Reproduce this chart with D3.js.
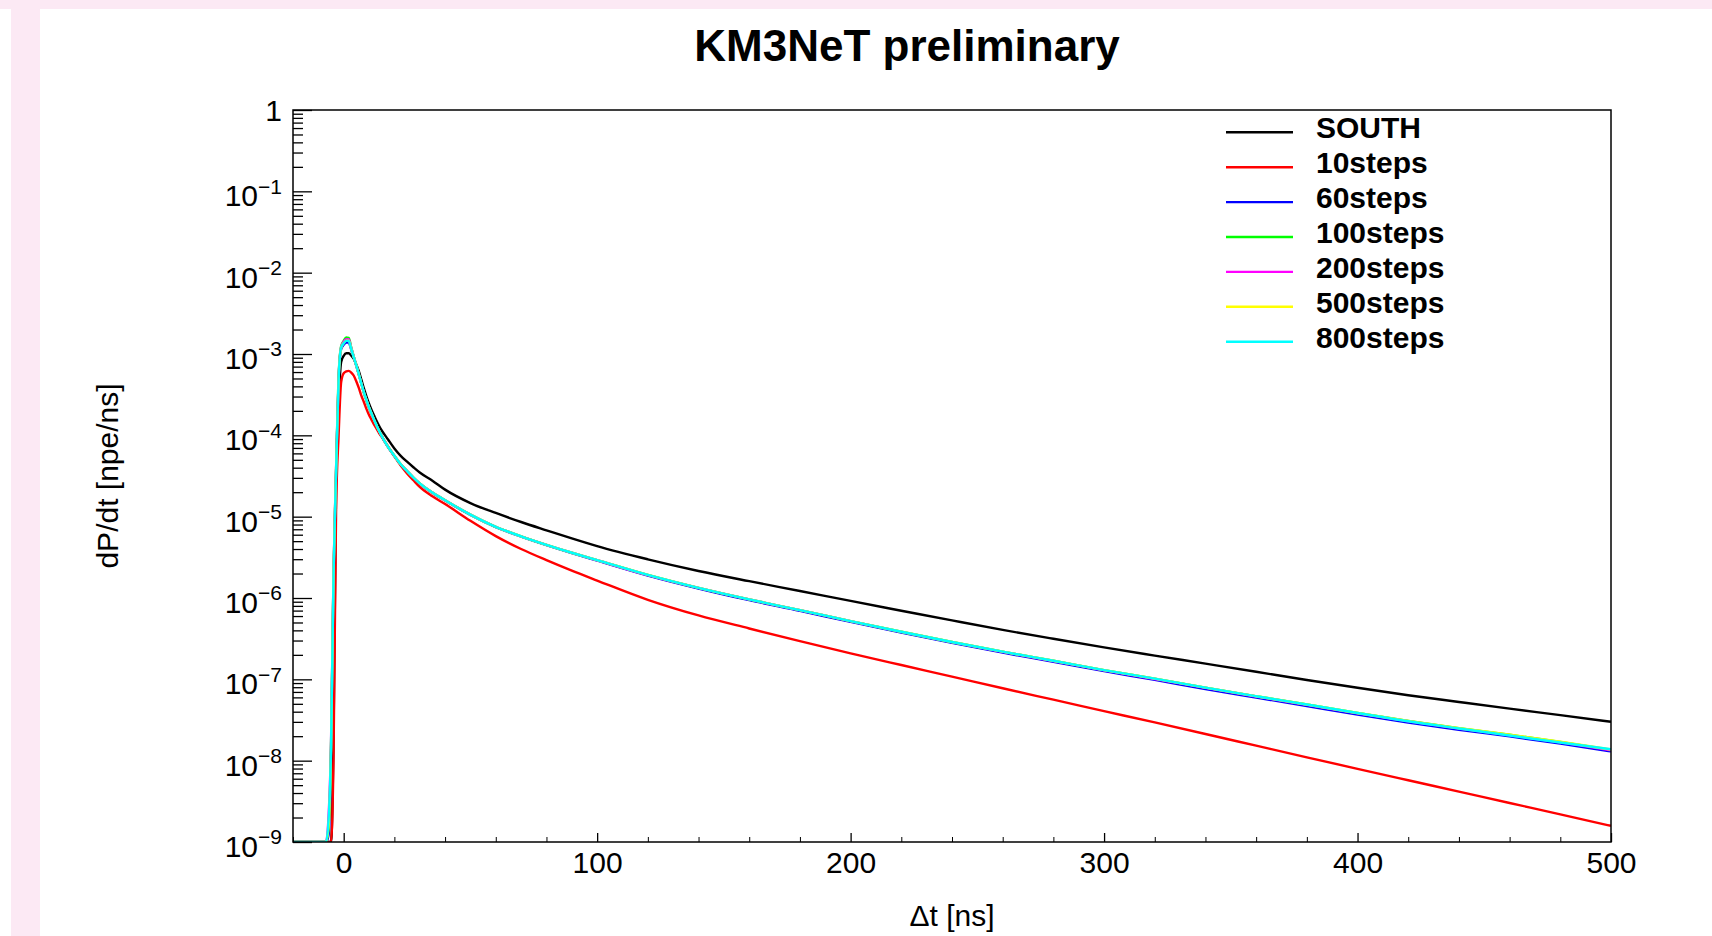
<!DOCTYPE html>
<html>
<head>
<meta charset="utf-8">
<script src="https://cdn.jsdelivr.net/npm/d3@7"></script>
<style>
  html, body { margin: 0; padding: 0; background: #fff; }
  svg { display: block; font-family: "Liberation Sans", Arial, Helvetica, sans-serif; }
</style>
</head>
<body>
<div id="chart"></div>
<script>
const tNs = [-20, -7, -6, -5, -4, -3, -2, -1, 0, 1, 2, 3, 4, 5, 6, 7, 8, 9, 10, 11, 12, 13, 14, 15,
  17.5, 20, 22.5, 25, 27.5, 30, 35, 40, 50, 60, 70, 80, 90, 100,
  120, 140, 160, 180, 200, 220, 240, 260, 280, 300, 320, 340, 360, 380, 400, 420, 440, 460, 480, 500];

// dP/dt [npe/ns] for each series
const south = [0, 0, 0, 0, 2.0e-8, 2.5e-5, 2.5e-4, 8.0e-4, 9.5e-4, 1.02e-3, 1.02e-3, 9.5e-4, 8.7e-4, 7.4e-4, 6.1e-4, 4.8e-4, 3.75e-4, 3.0e-4, 2.45e-4, 2.05e-4, 1.75e-4, 1.5e-4, 1.3e-4, 1.15e-4,
  8.9e-5, 6.9e-5, 5.6e-5, 4.74e-5, 4.05e-5, 3.49e-5, 2.77e-5, 2.15e-5, 1.47e-5, 1.11e-5, 8.6e-6, 6.8e-6, 5.4e-6, 4.34e-6,
  2.99e-6, 2.15e-6, 1.61e-6, 1.22e-6, 9.2e-7, 6.98e-7, 5.3e-7, 4.05e-7, 3.15e-7, 2.47e-7, 1.96e-7, 1.56e-7, 1.24e-7, 9.8e-8, 7.87e-8, 6.38e-8, 5.27e-8, 4.36e-8, 3.63e-8, 3.01e-8];

const steps10 = [0, 0, 0, 0, 1.2e-8, 1.2e-5, 1.0e-4, 4.5e-4, 5.8e-4, 6.1e-4, 6.2e-4, 5.9e-4, 5.4e-4, 4.6e-4, 3.8e-4, 3.05e-4, 2.55e-4, 2.1e-4, 1.78e-4, 1.55e-4, 1.35e-4, 1.2e-4, 1.06e-4, 9.6e-5,
  7.3e-5, 5.5e-5, 4.25e-5, 3.4e-5, 2.8e-5, 2.32e-5, 1.78e-5, 1.43e-5, 8.9e-6, 5.77e-6, 4.0e-6, 2.92e-6, 2.17e-6, 1.64e-6,
  9.5e-7, 6.1e-7, 4.22e-7, 2.95e-7, 2.09e-7, 1.50e-7, 1.08e-7, 7.76e-8, 5.62e-8, 4.07e-8, 2.95e-8, 2.13e-8, 1.53e-8, 1.10e-8, 7.94e-9, 5.75e-9, 4.17e-9, 3.02e-9, 2.19e-9, 1.58e-9];

const steps60 = [0, 0, 1.2e-9, 1.2e-8, 1.8e-6, 3.5e-5, 4.8e-4, 1.15e-3, 1.3e-3, 1.38e-3, 1.38e-3, 1.12e-3, 9.0e-4, 7.1e-4, 5.55e-4, 4.3e-4, 3.35e-4, 2.7e-4, 2.2e-4, 1.84e-4, 1.54e-4, 1.31e-4, 1.12e-4, 9.7e-5,
  7.15e-5, 5.55e-5, 4.38e-5, 3.62e-5, 3.01e-5, 2.55e-5, 1.97e-5, 1.58e-5, 1.05e-5, 7.45e-6, 5.68e-6, 4.46e-6, 3.56e-6, 2.88e-6,
  1.89e-6, 1.31e-6, 9.4e-7, 6.95e-7, 5.08e-7, 3.76e-7, 2.81e-7, 2.13e-7, 1.64e-7, 1.26e-7, 9.85e-8, 7.6e-8, 5.97e-8, 4.7e-8, 3.7e-8, 2.95e-8, 2.4e-8, 1.99e-8, 1.62e-8, 1.3e-8];

const steps100 = [0, 0, 1.5e-9, 1.4e-8, 2.1e-6, 3.8e-5, 5.3e-4, 1.25e-3, 1.45e-3, 1.6e-3, 1.58e-3, 1.2e-3, 9.2e-4, 7.2e-4, 5.6e-4, 4.3e-4, 3.3e-4, 2.68e-4, 2.2e-4, 1.85e-4, 1.55e-4, 1.32e-4, 1.13e-4, 9.8e-5,
  7.2e-5, 5.6e-5, 4.4e-5, 3.64e-5, 3.03e-5, 2.56e-5, 1.98e-5, 1.59e-5, 1.06e-5, 7.5e-6, 5.74e-6, 4.5e-6, 3.6e-6, 2.92e-6,
  1.92e-6, 1.33e-6, 9.6e-7, 7.1e-7, 5.2e-7, 3.85e-7, 2.88e-7, 2.19e-7, 1.69e-7, 1.30e-7, 1.02e-7, 7.9e-8, 6.2e-8, 4.9e-8, 3.85e-8, 3.08e-8, 2.5e-8, 2.08e-8, 1.7e-8, 1.36e-8];

const steps200 = [0, 0, 2.0e-9, 1.6e-8, 2.2e-6, 3.9e-5, 5.1e-4, 1.22e-3, 1.42e-3, 1.52e-3, 1.52e-3, 1.18e-3, 9.2e-4, 7.2e-4, 5.6e-4, 4.3e-4, 3.35e-4, 2.7e-4, 2.2e-4, 1.85e-4, 1.55e-4, 1.32e-4, 1.13e-4, 9.8e-5,
  7.2e-5, 5.6e-5, 4.4e-5, 3.64e-5, 3.03e-5, 2.56e-5, 1.98e-5, 1.59e-5, 1.06e-5, 7.5e-6, 5.72e-6, 4.5e-6, 3.6e-6, 2.91e-6,
  1.91e-6, 1.33e-6, 9.6e-7, 7.08e-7, 5.2e-7, 3.84e-7, 2.87e-7, 2.18e-7, 1.68e-7, 1.29e-7, 1.01e-7, 7.85e-8, 6.15e-8, 4.85e-8, 3.82e-8, 3.05e-8, 2.48e-8, 2.05e-8, 1.68e-8, 1.34e-8];

const steps500 = [0, 0, 1.5e-9, 1.4e-8, 2.0e-6, 3.7e-5, 4.9e-4, 1.19e-3, 1.36e-3, 1.46e-3, 1.46e-3, 1.15e-3, 9.1e-4, 7.2e-4, 5.6e-4, 4.3e-4, 3.35e-4, 2.7e-4, 2.2e-4, 1.85e-4, 1.55e-4, 1.32e-4, 1.13e-4, 9.8e-5,
  7.2e-5, 5.6e-5, 4.4e-5, 3.64e-5, 3.03e-5, 2.56e-5, 1.98e-5, 1.59e-5, 1.06e-5, 7.5e-6, 5.73e-6, 4.5e-6, 3.6e-6, 2.92e-6,
  1.92e-6, 1.33e-6, 9.6e-7, 7.1e-7, 5.2e-7, 3.85e-7, 2.88e-7, 2.19e-7, 1.69e-7, 1.30e-7, 1.02e-7, 7.9e-8, 6.2e-8, 4.9e-8, 3.86e-8, 3.08e-8, 2.51e-8, 2.09e-8, 1.71e-8, 1.37e-8];

const steps800 = [0, 0, 1.8e-9, 1.5e-8, 2.0e-6, 3.7e-5, 5.0e-4, 1.2e-3, 1.35e-3, 1.45e-3, 1.45e-3, 1.15e-3, 9.1e-4, 7.2e-4, 5.6e-4, 4.3e-4, 3.35e-4, 2.7e-4, 2.2e-4, 1.85e-4, 1.55e-4, 1.32e-4, 1.13e-4, 9.8e-5,
  7.2e-5, 5.6e-5, 4.4e-5, 3.64e-5, 3.03e-5, 2.56e-5, 1.98e-5, 1.59e-5, 1.06e-5, 7.5e-6, 5.73e-6, 4.5e-6, 3.6e-6, 2.92e-6,
  1.92e-6, 1.33e-6, 9.6e-7, 7.1e-7, 5.2e-7, 3.85e-7, 2.88e-7, 2.19e-7, 1.69e-7, 1.30e-7, 1.02e-7, 7.9e-8, 6.2e-8, 4.9e-8, 3.86e-8, 3.05e-8, 2.49e-8, 2.04e-8, 1.67e-8, 1.38e-8];

const seriesNames = ["SOUTH", "10steps", "60steps", "100steps", "200steps", "500steps", "800steps"];
const seriesValues = [south, steps10, steps60, steps100, steps200, steps500, steps800];
const seriesColors = ["#000000", "#ff0000", "#0000ff", "#00ff00", "#ff00ff", "#ffff00", "#00ffff"];

const xMajorTicks = [0, 100, 200, 300, 400, 500];
const yDecades = [1e-9, 1e-8, 1e-7, 1e-6, 1e-5, 1e-4, 1e-3, 1e-2, 1e-1, 1];

const W = 1712, H = 936;
const plot = { left: 293, right: 1611, top: 110, bottom: 842 };
const yMin = 1e-9;

const svg = d3.select("#chart").append("svg")
  .attr("width", W).attr("height", H);

// pink page strips around the canvas
svg.append("rect").attr("x", 0).attr("y", 0).attr("width", W).attr("height", 9).attr("fill", "#fce9f4");
svg.append("rect").attr("x", 11).attr("y", 9).attr("width", 29).attr("height", H - 9).attr("fill", "#fce9f4");

const x = d3.scaleLinear().domain([-20, 500]).range([plot.left, plot.right]);
const y = d3.scaleLog().domain([yMin, 1]).range([plot.bottom, plot.top]);

// clip curves to the frame
svg.append("clipPath").attr("id", "frame-clip")
  .append("rect")
  .attr("x", plot.left).attr("y", plot.top)
  .attr("width", plot.right - plot.left).attr("height", plot.bottom - plot.top);

const line = d3.line()
  .curve(d3.curveMonotoneX)
  .x(d => x(d.t))
  .y(d => y(Math.max(d.v, yMin)));

const curves = svg.append("g").attr("clip-path", "url(#frame-clip)");
seriesValues.forEach((vals, i) => {
  const pts = tNs.map((t, j) => ({ t: t, v: vals[j] }));
  curves.append("path")
    .datum(pts)
    .attr("fill", "none")
    .attr("stroke", seriesColors[i])
    .attr("stroke-width", 2.4)
    .attr("d", line);
});

// x axis: major + minor ticks pointing inside
const xMinorTicks = d3.range(-20, 501, 20).filter(v => xMajorTicks.indexOf(v) < 0);
svg.append("g")
  .attr("transform", "translate(0," + plot.bottom + ")")
  .call(d3.axisBottom(x).tickValues(xMinorTicks).tickSize(-5).tickFormat(""))
  .call(g => g.select(".domain").remove());

const xAxis = svg.append("g")
  .attr("transform", "translate(0," + plot.bottom + ")")
  .call(d3.axisBottom(x).tickValues(xMajorTicks).tickSize(-9).tickPadding(10).tickFormat(d3.format("d")));
xAxis.select(".domain").remove();
xAxis.selectAll(".tick text").attr("font-size", 30).attr("fill", "#000");
xAxis.selectAll(".tick line").attr("stroke-width", 1.3);

// y axis: decades + minor ticks
const yMinorTicks = [];
yDecades.slice(0, -1).forEach(d => { for (let k = 2; k <= 9; k++) yMinorTicks.push(d * k); });
svg.append("g")
  .attr("transform", "translate(" + plot.left + ",0)")
  .call(d3.axisLeft(y).tickValues(yMinorTicks).tickSize(-10).tickFormat(""))
  .call(g => g.select(".domain").remove())
  .selectAll(".tick line").attr("stroke-width", 1.3);

const yAxis = svg.append("g")
  .attr("transform", "translate(" + plot.left + ",0)")
  .call(d3.axisLeft(y).tickValues(yDecades).tickSize(-19).tickPadding(11));
yAxis.select(".domain").remove();
yAxis.selectAll(".tick line").attr("stroke-width", 1.3);
yAxis.selectAll(".tick text").each(function(d) {
  const t = d3.select(this).attr("font-size", 30).attr("fill", "#000");
  t.text(null);
  if (d === 1) {
    t.attr("dy", "0.36em").text("1");
  } else {
    t.attr("dy", "0.48em");
    t.append("tspan").text("10");
    t.append("tspan").attr("dy", "-0.6em").attr("font-size", "0.7em")
      .text("\u2212" + Math.round(-Math.log10(d)));
  }
});

// frame
svg.append("rect")
  .attr("x", plot.left).attr("y", plot.top)
  .attr("width", plot.right - plot.left).attr("height", plot.bottom - plot.top)
  .attr("fill", "none").attr("stroke", "#000").attr("stroke-width", 1.5);

// titles
svg.append("text")
  .attr("x", 907).attr("y", 61)
  .attr("text-anchor", "middle")
  .attr("font-size", 44).attr("font-weight", "bold")
  .text("KM3NeT preliminary");

svg.append("text")
  .attr("x", (plot.left + plot.right) / 2).attr("y", 926)
  .attr("text-anchor", "middle")
  .attr("font-size", 30)
  .text("\u0394t [ns]");

svg.append("text")
  .attr("transform", "translate(118," + ((plot.top + plot.bottom) / 2) + ") rotate(-90)")
  .attr("text-anchor", "middle")
  .attr("font-size", 30)
  .text("dP/dt [npe/ns]");

// legend
const legend = svg.append("g");
seriesNames.forEach((name, i) => {
  const ly = 132.3 + i * 34.9;
  legend.append("line")
    .attr("x1", 1226).attr("x2", 1293)
    .attr("y1", ly).attr("y2", ly)
    .attr("stroke", seriesColors[i]).attr("stroke-width", 2.4);
  legend.append("text")
    .attr("x", 1316).attr("y", ly + 6)
    .attr("font-size", 30).attr("font-weight", "bold")
    .text(name);
});
</script>
</body>
</html>
